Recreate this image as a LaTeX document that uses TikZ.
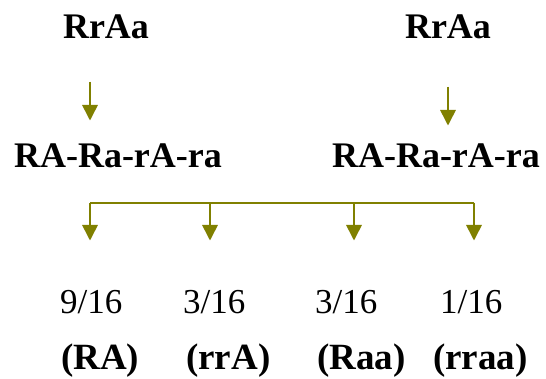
\documentclass[tikz,border=0pt]{standalone}
\usepackage{fontspec}
\setmainfont{Liberation Serif}
\usetikzlibrary{arrows.meta}
\definecolor{olivearrow}{RGB}{128,128,0}
\tikzset{
  bigbold/.style={font=\fontsize{36}{40}\selectfont\bfseries, inner sep=0pt, anchor=base},
  frac/.style={font=\fontsize{35}{40}\selectfont, inner sep=0pt, anchor=base west},
  lab/.style={font=\fontsize{37}{40}\selectfont\bfseries, inner sep=0pt, anchor=base west},
  arr/.style={draw=olivearrow, line width=1.6pt, -{Triangle[length=15.5pt,width=15.5pt]}, fill=olivearrow},
  bar/.style={draw=olivearrow, line width=1.6pt}
}
\begin{document}
\begin{tikzpicture}[x=1pt,y=-1pt]
\useasboundingbox (0,0) rectangle (546,379);
% parents
\node[bigbold] (p1) at (106,39) {RrAa};
\node[bigbold] (p2) at (448,39) {RrAa};
% gametes
\node[bigbold] (g1) at (118,168) {RA-Ra-rA-ra};
\node[bigbold] (g2) at (436,168) {RA-Ra-rA-ra};
% arrows parent -> gametes
\coordinate (a1s) at (90,82);
\coordinate (a1e) at (90,120.5);
\coordinate (a2s) at (448,87);
\coordinate (a2e) at (448,125.5);
\draw[arr] (a1s) -- (a1e);
\draw[arr] (a2s) -- (a2e);
% bracket
\coordinate (b1) at (90,203);
\coordinate (b2) at (210,203);
\coordinate (b3) at (354,203);
\coordinate (b4) at (474,203);
\coordinate (t1) at (90,240.5);
\coordinate (t2) at (210,240.5);
\coordinate (t3) at (354,240.5);
\coordinate (t4) at (474,240.5);
\draw[bar] (b1) -- (b4);
\draw[arr] (b1) -- (t1);
\draw[arr] (b2) -- (t2);
\draw[arr] (b3) -- (t3);
\draw[arr] (b4) -- (t4);
% ratios
\node[frac] (f1) at (60,313) {9/16};
\node[frac] (f2) at (183,313) {3/16};
\node[frac] (f3) at (315,313) {3/16};
\node[frac] (f4) at (440,313) {1/16};
% phenotypes
\node[lab] (l1) at (61,369.5) {(RA)};
\node[lab] (l2) at (186,369.5) {(rrA)};
\node[lab] (l3) at (317,369.5) {(Raa)};
\node[lab] (l4) at (433,369.5) {(rraa)};
\end{tikzpicture}
\end{document}
